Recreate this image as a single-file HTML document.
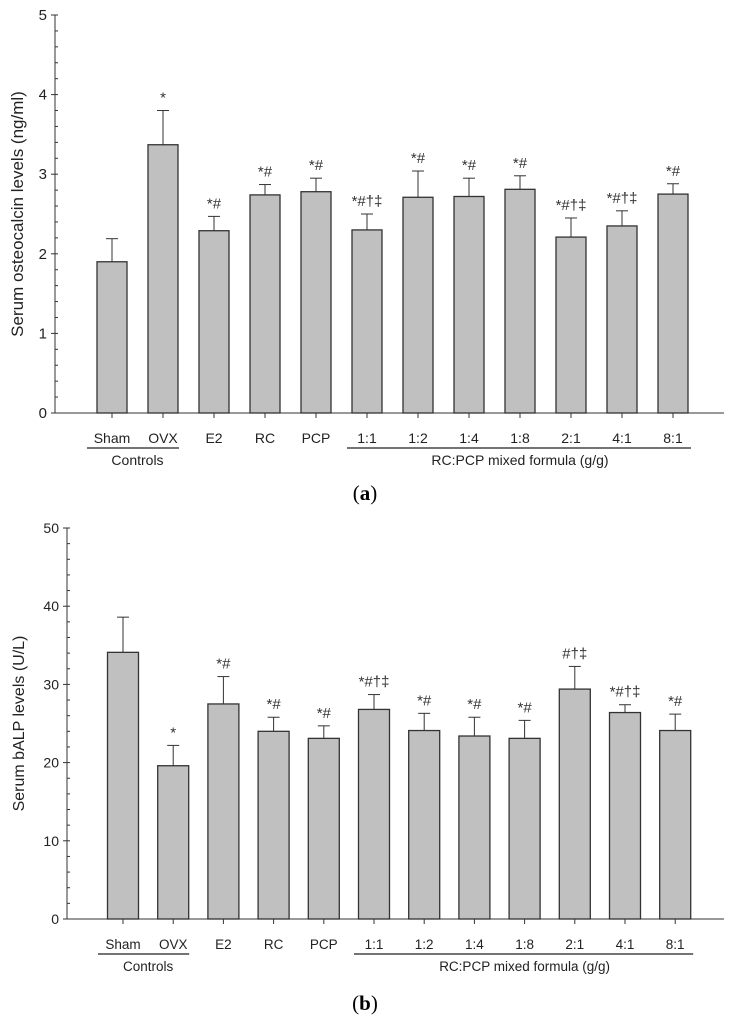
<!DOCTYPE html>
<html><head><meta charset="utf-8"><style>
html,body{margin:0;padding:0;background:#fff;}
svg{display:block;font-family:"Liberation Sans",Arial,sans-serif;}
</style></head><body>
<svg id="svg" width="730" height="1024" viewBox="0 0 730 1024"></svg>
<script>
const categories=["Sham","OVX","E2","RC","PCP","1:1","1:2","1:4","1:8","2:1","4:1","8:1"];
const osteoValues=[1.90,3.37,2.29,2.74,2.78,2.30,2.71,2.72,2.81,2.21,2.35,2.75];
const osteoErrors=[0.29,0.43,0.18,0.13,0.17,0.20,0.33,0.23,0.17,0.24,0.19,0.13];
const osteoMarks=["","*","*#","*#","*#","*#†‡","*#","*#","*#","*#†‡","*#†‡","*#"];
const osteoTicks=[0,1,2,3,4,5];
const balpValues=[34.1,19.6,27.5,24.0,23.1,26.8,24.1,23.4,23.1,29.4,26.4,24.1];
const balpErrors=[4.5,2.6,3.5,1.8,1.6,1.9,2.2,2.4,2.3,2.9,1.0,2.1];
const balpMarks=["","*","*#","*#","*#","*#†‡","*#","*#","*#","#†‡","*#†‡","*#"];
const balpTicks=[0,10,20,30,40,50];

const NS="http://www.w3.org/2000/svg";
const svg=document.getElementById('svg');
function mk(tag,attrs,parent,text){const e=document.createElementNS(NS,tag);for(const k in attrs)e.setAttribute(k,attrs[k]);if(text!==undefined)e.textContent=text;(parent||svg).appendChild(e);return e;}

function chart(cfg){
  const g=mk('g',{});
  
  
  const y=v=>cfg.y0-(v-cfg.min)/(cfg.max-cfg.min)*(cfg.y0-cfg.yTop);
  const x=i=>cfg.x0+i*cfg.step;
  const ax=mk('line',{x1:cfg.axX,y1:cfg.yTop,x2:cfg.axX,y2:cfg.y0,stroke:'#333','stroke-width':1},g);
  
  const xa=mk('line',{x1:cfg.axX,y1:cfg.y0,x2:cfg.axEnd,y2:cfg.y0,stroke:'#333','stroke-width':1},g);
  
  const tmin=cfg.ticks[0],tmax=cfg.ticks[cfg.ticks.length-1];
  const minorStep=(cfg.ticks[1]-cfg.ticks[0])/5;
  for(let v=tmin;v<=tmax+1e-9;v+=minorStep){mk('line',{x1:cfg.axX,y1:y(v),x2:cfg.axX+3,y2:y(v),stroke:'#333'},g);}
  cfg.ticks.forEach(t=>{
    mk('line',{x1:cfg.axX-4,y1:y(t),x2:cfg.axX,y2:y(t),stroke:'#333'},g);
    const lab=mk('text',{x:cfg.axX-8,y:y(t)+5,'text-anchor':'end','font-size':cfg.tickSize,fill:'#222'},g,String(t));
    
  });
  const yt=mk('text',{transform:`translate(${cfg.titleX},${(cfg.y0+cfg.yTop)/2}) rotate(-90)`,'text-anchor':'middle','font-size':cfg.titleSize,fill:'#222'},g,cfg.title);
  
  categories.forEach((c,i)=>{
    const cx=x(i),top=y(cfg.values[i]),et=y(cfg.values[i]+cfg.errors[i]);
    mk('line',{x1:cx,y1:top,x2:cx,y2:et,stroke:'#333'},g);
    mk('line',{x1:cx-6,y1:et,x2:cx+6,y2:et,stroke:'#333'},g);
    const b=mk('rect',{x:cx-cfg.bw/2,y:top,width:cfg.bw,height:cfg.y0-top,fill:'#c0c0c0',stroke:'#333','stroke-width':1.3},g);
    
    mk('line',{x1:cx,y1:cfg.y0,x2:cx,y2:cfg.y0+5,stroke:'#333'},g);
    const tl=mk('text',{x:cx,y:cfg.y0+30,'text-anchor':'middle','font-size':cfg.labSize,fill:'#222'},g,c);
    
    if(cfg.marks[i]){const m=mk('text',{x:cx,y:et-8,'text-anchor':'middle','font-size':15,fill:'#333'},g,cfg.marks[i]);
      }
  });
  const ly=cfg.y0+35;
  mk('line',{x1:x(0)-25,y1:ly,x2:x(1)+16,y2:ly,stroke:'#222','stroke-width':1.3},g);
  const c1=mk('text',{x:(x(0)+x(1))/2,y:ly+17,'text-anchor':'middle','font-size':cfg.labSize,fill:'#222'},g,'Controls');
  
  mk('line',{x1:x(5)-20,y1:ly,x2:x(11)+18,y2:ly,stroke:'#222','stroke-width':1.3},g);
  const c2=mk('text',{x:(x(5)+x(11))/2,y:ly+17,'text-anchor':'middle','font-size':cfg.labSize,fill:'#222'},g,'RC:PCP mixed formula (g/g)');
  
  const p=mk('text',{x:365,y:cfg.panelY,'text-anchor':'middle','font-size':21,'font-family':'Liberation Serif,serif',fill:'#000'},g);
  mk('tspan',{},p,'(');mk('tspan',{'font-weight':'bold'},p,cfg.panel);mk('tspan',{},p,')');
  
}
chart({name:'osteocalcin-chart',values:osteoValues,errors:osteoErrors,marks:osteoMarks,ticks:osteoTicks,min:0,max:5,
  y0:413,yTop:15,axX:55,axEnd:724,x0:112,step:51,bw:30,title:'Serum osteocalcin levels (ng/ml)',titleX:23,titleSize:17,tickSize:15,labSize:14,panel:'a',panelY:500});
chart({name:'balp-chart',values:balpValues,errors:balpErrors,marks:balpMarks,ticks:balpTicks,min:0,max:50,
  y0:919,yTop:528,axX:67,axEnd:724,x0:123,step:50.2,bw:31,title:'Serum bALP levels (U/L)',titleX:24,titleSize:16,tickSize:14,labSize:13.5,panel:'b',panelY:1010});
</script>
</body></html>
